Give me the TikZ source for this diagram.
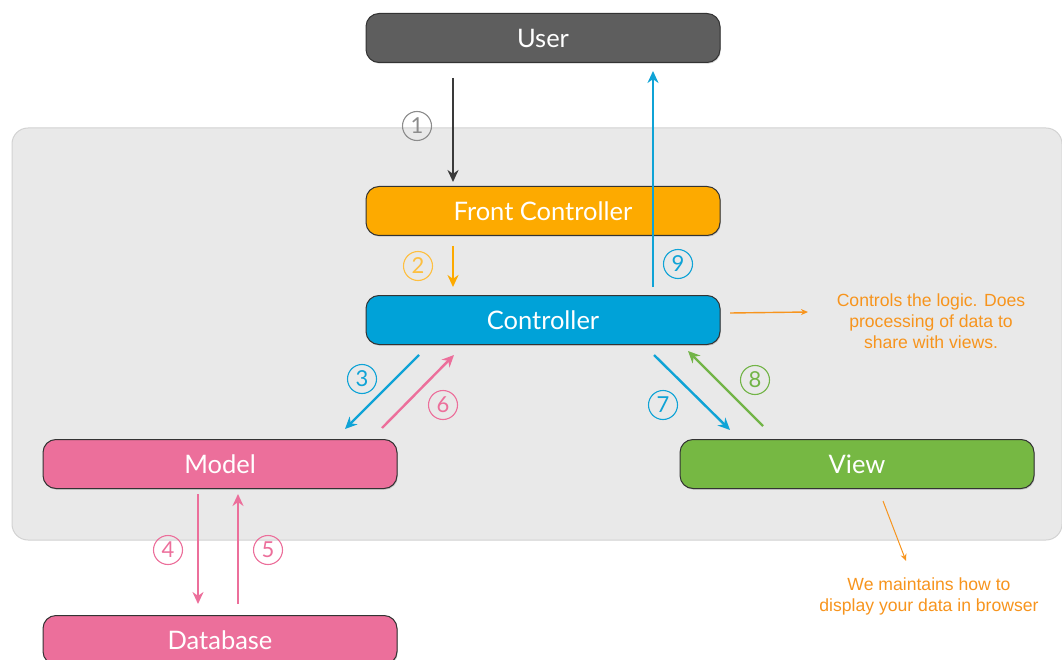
\documentclass[tikz,border=0pt]{standalone}
\usepackage{fontspec}
\setmainfont{Lato}
\newfontfamily\notefont{Liberation Sans}
\usetikzlibrary{arrows.meta,shadows}
\definecolor{usergray}{HTML}{5E5E5E}
\definecolor{fcorange}{HTML}{FDAA00}
\definecolor{ctblue}{HTML}{00A2D8}
\definecolor{mdpink}{HTML}{EC6F9B}
\definecolor{vwgreen}{HTML}{76B843}
\definecolor{panelgray}{HTML}{E9E9E9}
\definecolor{panelline}{HTML}{D2D2D2}
\definecolor{noteorange}{HTML}{F7941D}
\definecolor{arrowblue}{HTML}{0FA3D6}
\definecolor{arrowpink}{HTML}{EC6F9B}
\definecolor{arrowgreen}{HTML}{72B447}
\definecolor{arrowdark}{HTML}{3A3A3A}
\tikzset{
  x=1pt, y=-1pt,
  layer/.style={draw=black!80, line width=1pt, rounded corners=13pt,
    minimum width=354pt, minimum height=49pt, inner sep=0pt,
    text=white, font=\fontsize{25.5}{25.5}\selectfont,
    drop shadow={shadow xshift=0.8pt, shadow yshift=-1.2pt, opacity=0.35}},
  flow/.style={line width=2.4pt, -{Stealth[length=12pt,width=11pt]}},
  stepnum/.style={circle, draw, line width=1.1pt, minimum size=29pt, inner sep=0pt,
    font=\fontsize{22}{22}\selectfont},
  note/.style={font=\notefont\fontsize{17.6}{21}\selectfont, text=noteorange, align=center},
  notearrow/.style={draw=noteorange, line width=1.4pt, -{Stealth[length=7pt,width=6pt]}}
}
\begin{document}
\begin{tikzpicture}
\useasboundingbox (0,0) rectangle (1062,660);
% shared container panel
\draw[fill=panelgray, draw=panelline, line width=1pt, rounded corners=16pt]
  (12,128) rectangle (1062,540);

% layers
\node[layer, fill=usergray] (user) at (543,38) {User};
\node[layer, fill=fcorange] (front) at (543,211) {Front Controller};
\node[layer, fill=ctblue] (ctrl) at (543,320) {Controller};
\node[layer, fill=mdpink] (model) at (220,464) {Model};
\node[layer, fill=vwgreen] (view) at (857,464) {View};
\node[layer, fill=mdpink] (db) at (220,640) {Database};

% request flow
\coordinate (u1) at (453,78);
\coordinate (f1) at (453,182);
\draw[flow, draw=arrowdark] (u1) -- (f1);
\node[stepnum, draw=black!45, text=black!45] (n1) at (417,126) {1};

\coordinate (f2) at (453,246);
\coordinate (c2) at (453,287);
\draw[flow, draw=fcorange] (f2) -- (c2);
\node[stepnum, draw=fcorange!75, text=fcorange!75] (n2) at (418,266) {2};

\coordinate (c3) at (419,355);
\coordinate (m3) at (345,429);
\draw[flow, draw=arrowblue] (c3) -- (m3);
\node[stepnum, draw=arrowblue, text=arrowblue] (n3) at (362,379) {3};

\coordinate (m4) at (198,494);
\coordinate (d4) at (198,604);
\draw[flow, draw=arrowpink] (m4) -- (d4);
\node[stepnum, draw=arrowpink, text=arrowpink] (n4) at (168,550) {4};

\coordinate (d5) at (238,604);
\coordinate (m5) at (238,494);
\draw[flow, draw=arrowpink] (d5) -- (m5);
\node[stepnum, draw=arrowpink, text=arrowpink] (n5) at (268,550) {5};

\coordinate (m6) at (382,428);
\coordinate (c6) at (454,355);
\draw[flow, draw=arrowpink] (m6) -- (c6);
\node[stepnum, draw=arrowpink, text=arrowpink] (n6) at (443,405) {6};

\coordinate (c7) at (654,355);
\coordinate (v7) at (730,430);
\draw[flow, draw=arrowblue] (c7) -- (v7);
\node[stepnum, draw=arrowblue, text=arrowblue] (n7) at (663,405) {7};

\coordinate (v8) at (763,426);
\coordinate (c8) at (688,351);
\draw[flow, draw=arrowgreen] (v8) -- (c8);
\node[stepnum, draw=arrowgreen, text=arrowgreen] (n8) at (755,380) {8};

\coordinate (c9) at (653,287);
\coordinate (u9) at (653,71);
\draw[flow, draw=arrowblue] (c9) -- (u9);
\node[stepnum, draw=arrowblue, text=arrowblue] (n9) at (678,264) {9};

% annotations
\node[note] (ctrlnote) at (931,321) {Controls the logic. Does\\processing of data to\\share with views.};
\coordinate (cn1) at (730,313);
\coordinate (cn2) at (808,312);
\draw[notearrow] (cn1) -- (cn2);

\node[note] (viewnote) at (929,596) {We maintains how to\\display your data in browser};
\coordinate (vn1) at (883,501);
\coordinate (vn2) at (906,561);
\draw[notearrow, line width=1pt] (vn1) -- (vn2);
\end{tikzpicture}
\end{document}
